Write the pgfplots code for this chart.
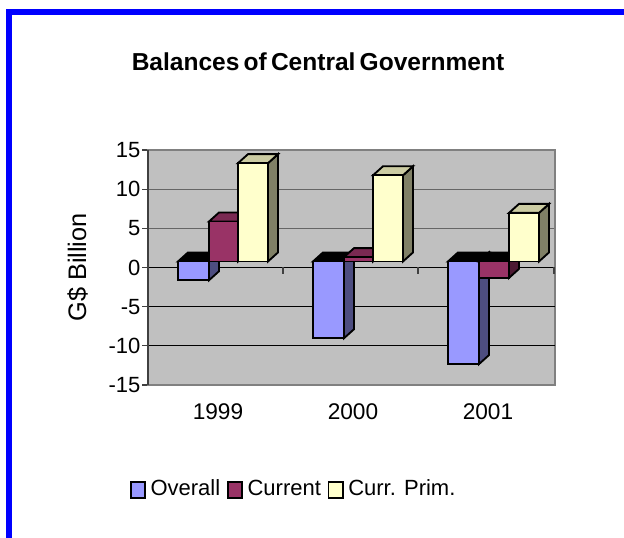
\documentclass[border=0pt]{standalone}
\usepackage{fontspec}
\setmainfont{Liberation Sans}
\usepackage{pgfplots}
\pgfplotsset{compat=1.18}

\definecolor{wall}{HTML}{C0C0C0}
\definecolor{ovF}{HTML}{9999FF}
\definecolor{ovS}{HTML}{4D4D80}
\definecolor{cuF}{HTML}{993366}
\definecolor{cuT}{HTML}{7A2952}
\definecolor{cuS}{HTML}{4D1A33}
\definecolor{prF}{HTML}{FFFFCC}
\definecolor{prT}{HTML}{CCCCA3}
\definecolor{prS}{HTML}{808066}

% left, right, value, front, top, side
\newcommand{\tdbar}[6]{%
  \pgfmathsetmacro{\xr}{#2+10}\pgfmathsetmacro{\xl}{#1+10}%
  \pgfmathsetmacro{\yv}{#3+0.77}\pgfmathsetmacro{\yvd}{#3+1.92}%
  \pgfmathsetmacro{\yt}{max(#3,0)+0.77}\pgfmathsetmacro{\ytd}{max(#3,0)+1.92}%
  \addplot[forget plot,barline,fill=#6] coordinates {(#2,0.77) (\xr,1.92) (\xr,\yvd) (#2,\yv)} --cycle;
  \addplot[forget plot,barline,fill=#5] coordinates {(#1,\yt) (\xl,\ytd) (\xr,\ytd) (#2,\yt)} --cycle;
  \addplot[forget plot,barline,fill=#4] coordinates {(#1,0.77) (#2,0.77) (#2,\yv) (#1,\yv)} --cycle;
}

\begin{document}
\begin{tikzpicture}[x=0.75pt,y=0.75pt]
\useasboundingbox (0,0) rectangle (624,538);
\fill[blue] (6,0) rectangle (12,529);
\fill[blue] (6,523) rectangle (624,529);
\node[font=\bfseries\fontsize{18.4}{20}\selectfont,anchor=center] at (318,476) {\spaceskip=0.17em Balances of Central Government};
\begin{axis}[
    at={(148pt*0.75,153pt*0.75)}, anchor=south west,
    scale only axis, width=305.25pt, height=176.25pt,
    xmin=148, xmax=555, ymin=-15, ymax=15,
    clip=false,
    axis background/.style={fill=wall},
    axis line style={draw=black!50,line width=1pt},
    barline/.style={draw=black,line width=1.4pt,line join=miter,no marks},
    font=\fontsize{16.5}{18}\selectfont,
    /pgf/number format/assume math mode=true,
    ytick={-15,-10,-5,0,5,10,15},
    yticklabels={-15,-10,-5,0,5,10,15},
    ytick pos=left, tick align=outside,
    major tick length=4.5pt,
    ytick style={draw=black!75,line width=0.8pt},
    yticklabel style={inner sep=1pt},
    ymajorgrids, major grid style={draw=black!60,line width=0.8pt},
    extra y ticks={-10,-5,0},
    extra y tick labels={},
    extra y tick style={grid=major,major grid style={draw=black,line width=0.8pt}},
    xtick={218,353,488},
    xticklabels={1999,2000,2001},
    xtick style={draw=none},
    xticklabel style={yshift=-6pt,font=\fontsize{17}{18}\selectfont},
    ylabel={G\$ Billion},
    ylabel style={font=\fontsize{19}{20}\selectfont},
    ylabel shift=2pt,
    legend style={at={(-0.055,-0.38)},anchor=north west,draw=none,fill=none,
      legend columns=3,font=\fontsize{16.5}{18}\selectfont,
      /tikz/every odd column/.style={column sep=1.5pt},
      /tikz/every even column/.style={column sep=3pt}},
    legend cell align=left,
]
\addplot[forget plot,draw=black!75,line width=0.8pt,no marks] coordinates {(148,-15) (148,15)};
\addplot[forget plot,ycomb,draw=black!75,line width=0.8pt,no marks] coordinates {(283,-0.8) (418,-0.8) (554,-0.8)};

\tdbar{178}{209}{-2.4}{ovF}{black}{ovS}
\tdbar{209}{238}{5.1}{cuF}{cuT}{cuS}
\tdbar{238}{268}{12.55}{prF}{prT}{prS}

\tdbar{313}{344}{-9.8}{ovF}{black}{ovS}
\tdbar{344}{373}{0.55}{cuF}{cuT}{cuS}
\tdbar{373}{403}{11.0}{prF}{prT}{prS}

\tdbar{448}{479}{-13.1}{ovF}{black}{ovS}
\tdbar{479}{509}{-2.1}{cuF}{black}{cuS}
\tdbar{509}{539}{6.2}{prF}{prT}{prS}

\addlegendimage{legend image code/.code={\draw[black,line width=1.4pt,fill=ovF] (0pt,-7pt) rectangle (10.6pt,5pt);}}
\addlegendentry{Overall}
\addlegendimage{legend image code/.code={\draw[black,line width=1.4pt,fill=cuF] (0pt,-7pt) rectangle (10.6pt,5pt);}}
\addlegendentry{Current}
\addlegendimage{legend image code/.code={\draw[black,line width=1.4pt,fill=prF] (0pt,-7pt) rectangle (10.6pt,5pt);}}
\addlegendentry{Curr. Prim.}
\end{axis}
\end{tikzpicture}
\end{document}
